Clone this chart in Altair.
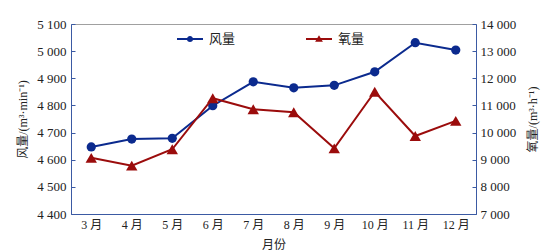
import altair as alt
import pandas as pd

months = ["3 月", "4 月", "5 月", "6 月", "7 月", "8 月", "9 月", "10 月", "11 月", "12 月"]
wind = [4647, 4676, 4679, 4799, 4887, 4865, 4874, 4924, 5031, 5004]
oxygen = [9070, 8780, 9385, 11265, 10860, 10750, 9420, 11505, 9875, 10430]
series_names = ["风量", "氧量"]
colors = ["#0b2a8e", "#9b0c0c"]

df = pd.DataFrame({"month": months, "wind": wind, "oxygen": oxygen})
df["s_wind"] = series_names[0]
df["s_oxy"] = series_names[1]

FONT = "Liberation Serif, Noto Sans CJK SC"
AXIS_COLOR = "#3b5aa3"

# legend symbols: a line with a marker on it
path_circle = "M-1,-0.075H1V0.075H-1Z M0.24,0A0.24,0.24,0,1,1,-0.24,0A0.24,0.24,0,1,1,0.24,0Z"
path_tri = "M-1,-0.075H1V0.075H-1Z M0,-0.28L0.3,0.22L-0.3,0.22Z"

num_fmt = "replace(format(datum.value, ','), ',', ' ')"

x_enc = alt.X("month:N", sort=months, scale=alt.Scale(padding=0.5),
              axis=alt.Axis(title="月份", ticks=False, labelAngle=0, labelPadding=5,
                            titlePadding=9, domainColor=AXIS_COLOR, labelFontSize=12))

y_left = alt.Y("wind:Q", scale=alt.Scale(domain=[4400, 5100], nice=False, zero=False),
               axis=alt.Axis(title="风量/(m³·min⁻¹)", values=list(range(4400, 5101, 100)),
                             labelExpr=num_fmt, grid=False, tickSize=alt.ExprRef(expr="-4"),
                             labelPadding=9, titleX=-49, titleY=95, titleAngle=270,
                             titleAlign="center", titleBaseline="middle", orient="left"))
y_right = alt.Y("oxygen:Q", scale=alt.Scale(domain=[7000, 14000], nice=False, zero=False),
                axis=alt.Axis(title="氧量/(m³·h⁻¹)", values=list(range(7000, 14001, 1000)),
                              labelExpr=num_fmt, grid=False, tickSize=alt.ExprRef(expr="-4"),
                              labelPadding=8, titleX=56, titleY=95, titleAngle=270,
                              titleAlign="center", titleBaseline="middle", orient="right"))

legend_def = dict(title=None, orient="none", direction="horizontal",
                  legendX=106, legendY=2, symbolSize=676,
                  symbolOpacity=1, symbolStrokeWidth=0,
                  labelOffset=6, columnPadding=70,
                  labelFontSize=13, labelFont=FONT, labelColor="#222222")

base = alt.Chart(df)

wind_line = base.mark_line(color=colors[0], strokeWidth=2).encode(x=x_enc, y=y_left)
wind_pts = base.mark_point(shape="circle", filled=True, size=85, opacity=1,
                           color=colors[0]).encode(x=x_enc, y=y_left)
legend_dummy = base.transform_fold(["s_wind", "s_oxy"], as_=["k", "series"]).mark_point(
    filled=True, opacity=0).encode(
    x=x_enc, y=y_left,
    color=alt.Color("series:N", scale=alt.Scale(domain=series_names, range=colors),
                    legend=alt.Legend(**legend_def)),
    shape=alt.Shape("series:N", scale=alt.Scale(domain=series_names,
                                                range=[path_circle, path_tri]),
                    legend=alt.Legend(**legend_def)),
)

oxy_line = base.mark_line(color=colors[1], strokeWidth=2).encode(x=x_enc, y=y_right)
oxy_pts = base.mark_point(shape="triangle-up", filled=True, size=130, opacity=1,
                          color=colors[1]).encode(x=x_enc, y=y_right)

left = alt.layer(wind_line, wind_pts, legend_dummy)
right = alt.layer(oxy_line, oxy_pts)

chart = alt.layer(left, right).resolve_scale(y="independent").properties(
    width=405, height=190, autosize="none", background="white",
    padding={"left": 71, "top": 24, "right": 74, "bottom": 37},
).configure_view(stroke="#a0a0a0", strokeWidth=1).configure_axis(
    labelFont=FONT, titleFont=FONT, labelFontSize=13, titleFontSize=12,
    labelColor="#222222", titleColor="#222222", titleFontWeight="normal",
    domainColor=AXIS_COLOR, tickColor=AXIS_COLOR, domainWidth=1,
)

chart.save("out.html", embed_options={"renderer": "svg", "actions": False})
